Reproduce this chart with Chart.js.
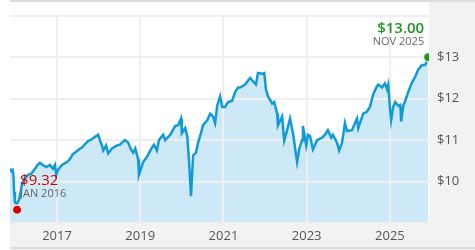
<!DOCTYPE html>
<html>
<head>
<meta charset="utf-8">
<script src="https://cdn.jsdelivr.net/npm/chart.js@4/dist/chart.umd.min.js"></script>
<style>
  html, body { margin: 0; padding: 0; background: #fff; }
  #wrap { width: 475px; height: 250px; position: relative; }
</style>
</head>
<body>
<div id="wrap"><canvas id="price-chart"></canvas></div>
<script>
// price history, dates as decimal years
const priceDates = [
  2015.87, 2015.90, 2015.93, 2015.95, 2015.97, 2015.99, 2016.03, 2016.06, 2016.09, 2016.13,
  2016.16, 2016.23, 2016.30, 2016.38, 2016.47, 2016.54, 2016.59, 2016.66, 2016.74, 2016.83,
  2016.90, 2016.95, 2016.98, 2017.02, 2017.12, 2017.24, 2017.31, 2017.38, 2017.46, 2017.53,
  2017.60, 2017.67, 2017.75, 2017.82, 2017.89, 2017.96, 2017.99, 2018.03, 2018.08, 2018.11,
  2018.18, 2018.23, 2018.32, 2018.44, 2018.51, 2018.63, 2018.71, 2018.78, 2018.83, 2018.88,
  2018.95, 2018.97, 2019.07, 2019.16, 2019.28, 2019.33, 2019.40, 2019.45, 2019.55, 2019.60,
  2019.72, 2019.84, 2019.91, 2019.98, 2020.00, 2020.08, 2020.13, 2020.17, 2020.22, 2020.25,
  2020.27, 2020.34, 2020.39, 2020.44, 2020.51, 2020.61, 2020.68, 2020.75, 2020.80, 2020.85,
  2020.92, 2020.97, 2021.04, 2021.11, 2021.21, 2021.28, 2021.35, 2021.40, 2021.52, 2021.64,
  2021.71, 2021.78, 2021.83, 2021.93, 2021.98, 2022.02, 2022.07, 2022.17, 2022.22, 2022.29,
  2022.31, 2022.41, 2022.46, 2022.53, 2022.60, 2022.67, 2022.77, 2022.82, 2022.89, 2022.91,
  2022.99, 2023.03, 2023.08, 2023.15, 2023.25, 2023.37, 2023.44, 2023.51, 2023.59, 2023.63,
  2023.73, 2023.78, 2023.85, 2023.92, 2023.97, 2024.09, 2024.16, 2024.21, 2024.24, 2024.28,
  2024.36, 2024.45, 2024.52, 2024.60, 2024.69, 2024.72, 2024.81, 2024.88, 2024.93, 2024.96,
  2025.00, 2025.03, 2025.08, 2025.13, 2025.20, 2025.25, 2025.27, 2025.32, 2025.37, 2025.44,
  2025.53, 2025.61, 2025.68, 2025.77, 2025.85, 2025.92,
];
const prices = [
  10.31, 10.26, 10.28, 10.17, 9.75, 9.50, 9.47, 9.50, 9.58, 9.77,
  9.96, 10.07, 10.16, 10.19, 10.31, 10.41, 10.45, 10.40, 10.35, 10.40,
  10.31, 10.40, 10.16, 10.28, 10.40, 10.47, 10.54, 10.66, 10.72, 10.78,
  10.82, 10.90, 10.98, 11.01, 11.06, 11.11, 11.13, 11.00, 10.87, 10.75,
  10.87, 10.68, 10.80, 10.87, 10.89, 11.00, 10.94, 10.77, 10.70, 10.80,
  10.54, 10.16, 10.47, 10.59, 10.82, 10.89, 10.75, 11.00, 11.13, 11.00,
  11.13, 11.34, 11.36, 11.52, 11.17, 11.29, 11.10, 10.54, 9.65, 10.24,
  10.63, 10.70, 10.94, 11.10, 11.36, 11.48, 11.64, 11.57, 11.41, 11.83,
  12.06, 11.80, 11.80, 11.92, 11.95, 12.16, 12.27, 12.27, 12.34, 12.50,
  12.42, 12.34, 12.62, 12.60, 12.62, 12.23, 12.06, 11.88, 11.92, 11.64,
  11.36, 11.57, 10.99, 11.24, 11.52, 11.17, 10.47, 10.78, 11.00, 11.34,
  10.87, 11.13, 11.10, 10.78, 11.00, 11.06, 11.13, 11.24, 11.06, 11.13,
  10.94, 10.75, 10.94, 11.41, 11.22, 11.24, 11.41, 11.52, 11.29, 11.41,
  11.64, 11.69, 11.80, 12.11, 12.30, 12.34, 12.27, 12.37, 12.23, 12.34,
  11.80, 11.48, 11.80, 11.92, 11.83, 11.85, 11.45, 11.83, 11.95, 12.16,
  12.39, 12.53, 12.70, 12.81, 12.81, 12.98,
];

const lowPoint = { x: 2016.04, y: 9.32, price: '$9.32', label: 'JAN 2016' };
const highPoint = { x: 2025.92, y: 13.00, price: '$13.00', label: 'NOV 2025' };

const yearTicks = [2017, 2019, 2021, 2023, 2025];
const priceTicks = [9, 10, 11, 12, 13, 14];
const shownPriceTicks = [10, 11, 12, 13];

const FONT = '"Open Sans", "Noto Sans", sans-serif';

// grey frame: right axis column + bottom axis band + thin borders
const framePlugin = {
  id: 'frame',
  beforeDraw(chart) {
    const { ctx, chartArea: a, width, height } = chart;
    ctx.save();
    ctx.fillStyle = '#f2f2f2';
    ctx.fillRect(a.right, 2, width - a.right, a.bottom - 2);
    ctx.fillRect(a.left, a.bottom, width - a.left, height - a.bottom);
    ctx.fillStyle = '#dcdcdc';
    ctx.fillRect(a.left, 0, width - a.left, 2);
    ctx.fillRect(a.left, height - 3, width - a.left, 2);
    ctx.restore();
  },
};

// price callouts next to the two marked points
const calloutPlugin = {
  id: 'callouts',
  afterDatasetsDraw(chart) {
    const { ctx } = chart;
    const lo = chart.getDatasetMeta(1).data[0];
    const hi = chart.getDatasetMeta(2).data[0];
    ctx.save();
    ctx.textBaseline = 'middle';

    ctx.textAlign = 'left';
    ctx.fillStyle = '#d40000';
    ctx.font = `15px ${FONT}`;
    ctx.fillText(lowPoint.price, lo.x + 3, lo.y - 29);
    ctx.fillStyle = '#666';
    ctx.font = `11px ${FONT}`;
    ctx.fillText(lowPoint.label, lo.x + 3, lo.y - 16);

    ctx.textAlign = 'right';
    ctx.fillStyle = '#1d9a1d';
    ctx.font = `600 15px ${FONT}`;
    ctx.fillText(highPoint.price, hi.x - 4, hi.y - 29);
    ctx.fillStyle = '#666';
    ctx.font = `11px ${FONT}`;
    ctx.fillText(highPoint.label, hi.x - 4, hi.y - 15);
    ctx.restore();
  },
};

new Chart(document.getElementById('price-chart'), {
  type: 'line',
  data: {
    datasets: [
      {
        data: priceDates.map((d, i) => ({ x: d, y: prices[i] })),
        borderColor: '#119ad9',
        backgroundColor: '#cde9f7',
        borderWidth: 2.5,
        fill: 'start',
        tension: 0,
        pointRadius: 0,
        order: 2,
      },
      {
        data: [{ x: lowPoint.x, y: lowPoint.y }],
        pointRadius: 4.5,
        pointBackgroundColor: '#d40000',
        pointBorderColor: '#fff',
        pointBorderWidth: 1,
        showLine: false,
        order: 1,
      },
      {
        data: [{ x: highPoint.x, y: highPoint.y }],
        pointRadius: 4.5,
        pointBackgroundColor: '#1d9a1d',
        pointBorderColor: '#fff',
        pointBorderWidth: 1,
        showLine: false,
        order: 1,
      },
    ],
  },
  options: {
    responsive: true,
    maintainAspectRatio: false,
    animation: false,
    layout: { padding: { left: 10, top: 10, right: 0, bottom: 0 } },
    plugins: {
      legend: { display: false },
      tooltip: { enabled: false },
      filler: { drawTime: 'beforeDraw' },
    },
    scales: {
      x: {
        type: 'linear',
        min: 2015.87,
        max: 2025.94,
        afterBuildTicks: (s) => { s.ticks = yearTicks.map((v) => ({ value: v })); },
        afterFit: (s) => { s.height = 27; },
        ticks: {
          callback: (v) => String(v),
          color: '#555',
          font: { family: FONT, size: 13 },
          padding: 5,
          maxRotation: 0,
        },
        grid: { color: '#efefef', lineWidth: 2, drawTicks: false },
        border: { display: false },
      },
      y: {
        position: 'right',
        min: 9,
        max: 14,
        afterBuildTicks: (s) => { s.ticks = priceTicks.map((v) => ({ value: v })); },
        afterFit: (s) => { s.width = 46; },
        ticks: {
          callback: (v) => (shownPriceTicks.includes(v) ? '$' + v : ''),
          color: '#555',
          font: { family: FONT, size: 13 },
          padding: 8,
        },
        grid: { color: '#efefef', lineWidth: 2, drawTicks: false },
        border: { display: false },
      },
    },
  },
  plugins: [framePlugin, calloutPlugin],
});
</script>
</body>
</html>
